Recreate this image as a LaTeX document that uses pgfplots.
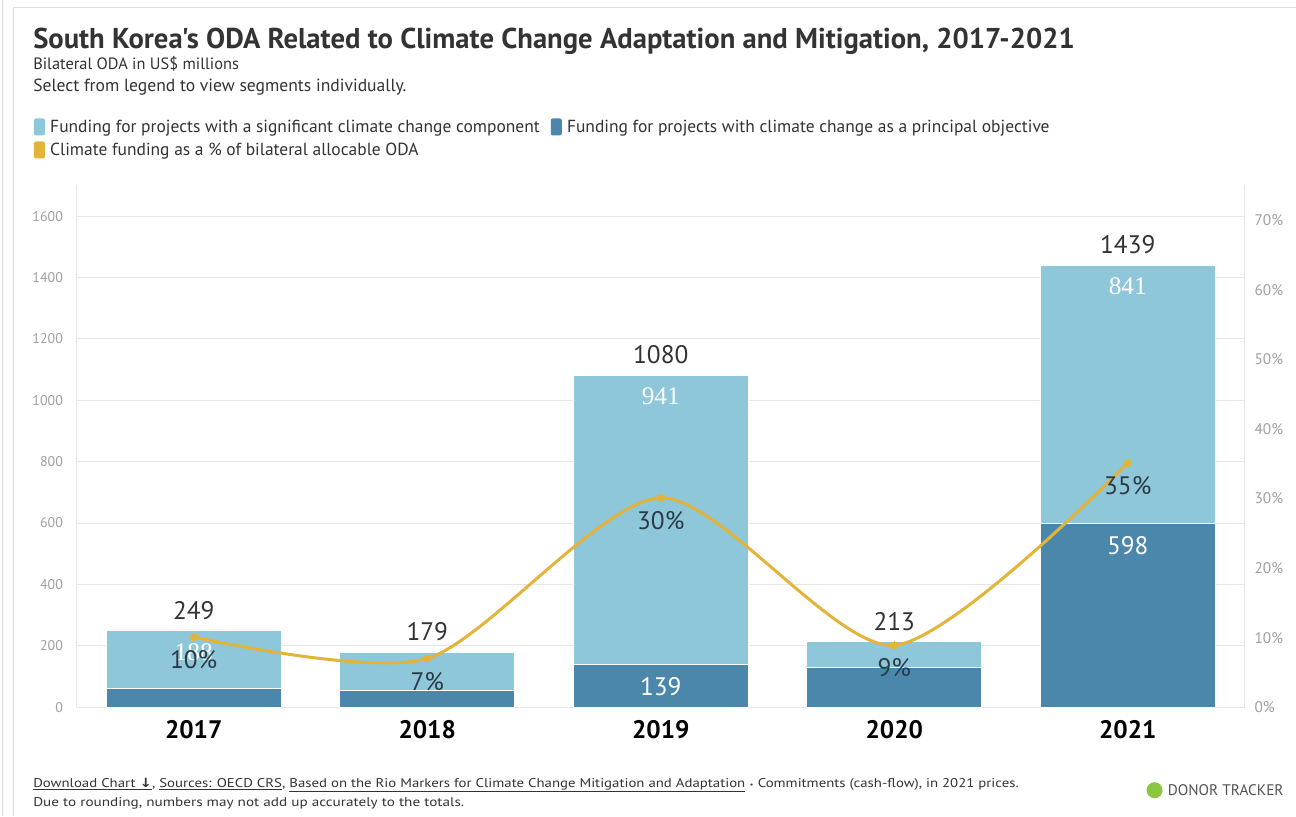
\documentclass[border=0pt]{standalone}
\usepackage{pgfplots}
\pgfplotsset{compat=1.18}
\usepackage{fontspec}
\setmainfont{PT Sans}
\newfontfamily\plainfont{PT Sans}
\newfontfamily\serf{Liberation Serif}
\newfontfamily\djv{DejaVu Sans}
\definecolor{lightb}{HTML}{8EC7DA}
\definecolor{darkb}{HTML}{4B87AB}
\definecolor{gold}{HTML}{E3B43A}
\definecolor{txt}{HTML}{333333}
\definecolor{pct}{HTML}{2B3A47}
\definecolor{tickc}{HTML}{A0A0A0}
\definecolor{gridc}{HTML}{E6E6E6}
\definecolor{frame}{HTML}{DDDDDD}
\definecolor{dtgreen}{HTML}{8CC63F}
\pgfplotstableread{
x dark light total
0 61 188 249
1 53 126 179
2 139 941 1080
3 131 82 213
4 598 841 1439
}\oda
\pgfplotsset{
  base/.style={
    at={(57.75pt,81.75pt)}, anchor=south west,
    width=876pt, height=391.5pt, scale only axis,
    xmin=-0.5, xmax=4.5, ymin=0,
    axis line style={draw=none},
    tick style={draw=none},
    clip=false,
    /pgf/number format/assume math mode=true,
    /pgf/number format/1000 sep={},
  }
}
\begin{document}
\begin{tikzpicture}
\begin{scope}[x=0.75pt,y=0.75pt]
\path[fill=white] (0,0) rectangle (1296,816);
% card frame
\draw[frame, line width=0.75pt] (3,0) -- (3,816);
\draw[frame, line width=0.75pt] (14,0) -- (14,809) -- (1296,809);
% titles
\node[anchor=base west, inner sep=0pt, text=txt, font=\plainfont\bfseries\fontsize{21.5}{24}\selectfont] at (33,816-48) {South Korea's ODA Related to Climate Change Adaptation and Mitigation, 2017-2021};
\node[anchor=base west, inner sep=0pt, text=txt, font=\fontsize{12.3}{14}\selectfont] at (33,816-69) {Bilateral ODA in US\$ millions};
\node[anchor=base west, inner sep=0pt, text=txt, font=\fontsize{13.2}{15}\selectfont] at (33,816-91) {Select from legend to view segments individually.};
% legend
\fill[lightb, rounded corners=1.5pt] (34,816-135) rectangle (45,816-118);
\node[anchor=base west, inner sep=0pt, text=txt, font=\fontsize{13.1}{15}\selectfont] at (50,816-132) {Funding for projects with a significant climate change component};
\fill[darkb, rounded corners=1.5pt] (551,816-135) rectangle (562,816-118);
\node[anchor=base west, inner sep=0pt, text=txt, font=\fontsize{13.1}{15}\selectfont] at (567,816-132) {Funding for projects with climate change as a principal objective};
\fill[gold, rounded corners=1.5pt] (34,816-158) rectangle (45,816-141);
\node[anchor=base west, inner sep=0pt, text=txt, font=\fontsize{13.1}{15}\selectfont] at (50,816-155) {Climate funding as a \% of bilateral allocable ODA};
% axis side lines
\draw[gridc, line width=0.75pt] (77,109) -- (77,631);
\draw[gridc, line width=0.75pt] (1245,109) -- (1245,631);
% footer
\node[anchor=base west, inner sep=0pt, text=txt, font=\fontsize{9.5}{11}\selectfont] at (33,816-787) {\scalebox{1.17}[1]{\underline{Download Chart {\djv\bfseries ↓}}, \underline{Sources: OECD CRS}, \underline{Based on the Rio Markers for Climate Change Mitigation and Adaptation} {\djv\tiny •} Commitments (cash-flow), in 2021 prices.}};
\node[anchor=base west, inner sep=0pt, text=txt, font=\fontsize{9.5}{11}\selectfont] at (33,816-806) {\scalebox{1.2}[1]{Due to rounding, numbers may not add up accurately to the totals.}};
\fill[dtgreen] (1155,816-790) circle (8);
\node[anchor=base west, inner sep=0pt, text=txt!85, font=\fontsize{11.5}{13}\selectfont] at (1168,816-795) {DONOR TRACKER};
\end{scope}
% bars
\begin{axis}[base, ymax=1700,
  ybar stacked, bar width=0.75,
  ytick={0,200,...,1600},
  ymajorgrids, grid style={gridc, line width=0.75pt},
  yticklabel style={font=\fontsize{10.5}{12}\selectfont, text=tickc, anchor=east, xshift=-7pt},
  xtick={0,1,2,3,4}, xticklabels={2017,2018,2019,2020,2021},
  xticklabel style={font=\bfseries\fontsize{19}{21}\selectfont, text=black, anchor=center, yshift=-16.5pt},
]
\addplot[fill=darkb, draw=white, line width=0.75pt] table[x=x, y=dark] {\oda};
\addplot[fill=lightb, draw=white, line width=0.75pt] table[x=x, y=light] {\oda};
\end{axis}
% value labels (same scale as bars, not stacked)
\begin{axis}[base, ymax=1700, hide axis]
% totals above the bars
\addplot[draw=none, mark=none,
  nodes near coords, point meta=explicit symbolic,
  every node near coord/.append style={anchor=center, yshift=15.5pt, text=txt, font=\fontsize{19}{21}\selectfont}]
  table[meta=lab] {
x y lab
0 249 249
1 179 179
2 1080 1080
3 213 213
4 1439 1439
};
% significant-component labels, inside the top of the light segment
\addplot[draw=none, mark=none,
  nodes near coords, point meta=explicit symbolic,
  every node near coord/.append style={anchor=center, yshift=-15.75pt, text=white, font=\serf\fontsize{19}{21}\selectfont}]
  table[meta=lab] {
x y lab
0 249 188
2 1080 941
4 1439 841
};
% principal-objective labels, inside the top of the dark segment
\addplot[draw=none, mark=none,
  nodes near coords, point meta=explicit symbolic,
  every node near coord/.append style={anchor=center, yshift=-16.5pt, text=white, font=\fontsize{19}{21}\selectfont}]
  table[meta=lab] {
x y lab
2 139 139
4 598 598
};
\end{axis}
% percentage line
\begin{axis}[base, ymax=75,
  axis y line*=right,
  ytick={0,10,...,70},
  yticklabel={\pgfmathprintnumber{\tick}\%},
  yticklabel style={font=\fontsize{11.5}{13}\selectfont, text=tickc, anchor=west, xshift=4pt},
  xtick=\empty,
]
\addplot[gold, line width=2.25pt, smooth, tension=0.45,
  mark=*, mark size=2.6pt, mark options={fill=gold, draw=gold, line width=0pt},
  nodes near coords, point meta=explicit symbolic,
  every node near coord/.append style={anchor=center, yshift=-17pt, text=pct, font=\fontsize{19}{21}\selectfont}]
  table[meta=lab] {
x y lab
0 10.1 10\%
1 7.0 7\%
2 30.1 30\%
3 8.9 9\%
4 35.1 35\%
};
\end{axis}
\end{tikzpicture}
\end{document}
